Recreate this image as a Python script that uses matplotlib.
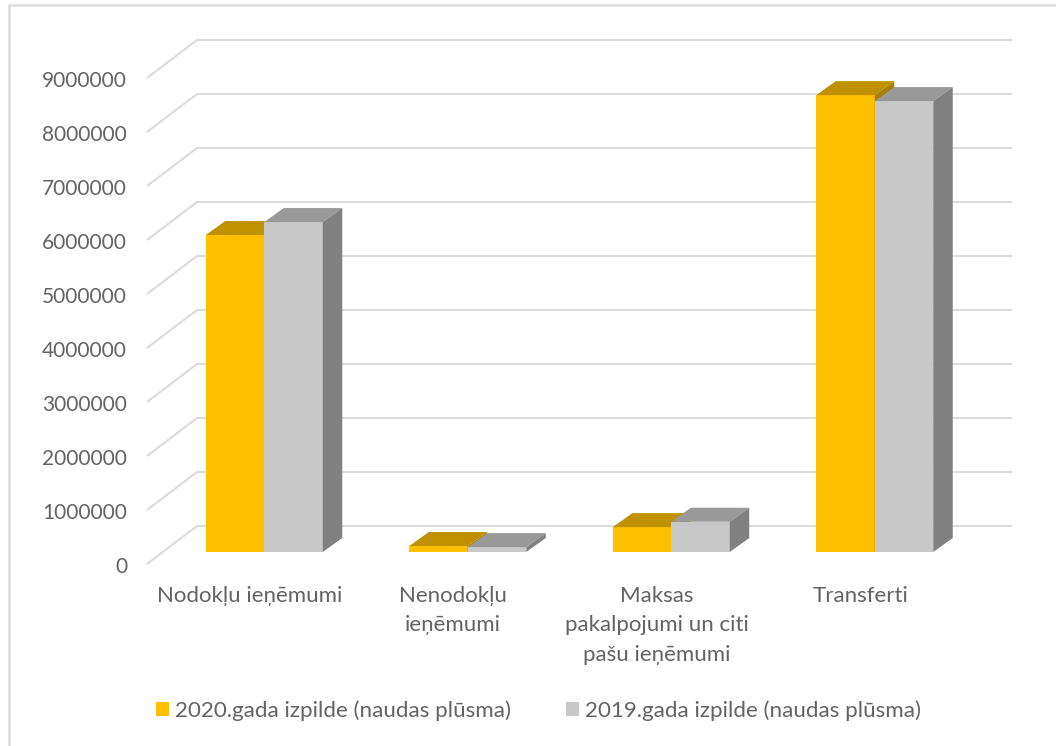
import matplotlib
matplotlib.use("Agg")
import matplotlib.pyplot as plt
from matplotlib.lines import Line2D
from matplotlib.patches import Polygon
from matplotlib.transforms import ScaledTranslation

categories = ["Nodokļu ieņēmumi", "Nenodokļu\nieņēmumi",
              "Maksas\npakalpojumi un citi\npašu ieņēmumi", "Transferti"]
series_2020 = [5870000, 110000, 460000, 8460000]
series_2019 = [6110000, 90000, 560000, 8350000]
label_2020 = "2020.gada izpilde (naudas plūsma)"
label_2019 = "2019.gada izpilde (naudas plūsma)"
y_ticks = [0, 1000000, 2000000, 3000000, 4000000, 5000000, 6000000, 7000000, 8000000, 9000000]

W, H = 1056, 746
FONT = ["Lato", "DejaVu Sans"]
TEXT = "#636363"
GRID = "#DCDCDC"
plt.rcParams["font.family"] = FONT

fig = plt.figure(figsize=(W / 100, H / 100), dpi=100, facecolor="white")
# the chart frame shows only along its left and top edges
fig.add_artist(Line2D([8.5 / W, 8.5 / W, 1], [0, 1 - 4.5 / H, 1 - 4.5 / H], transform=fig.transFigure,
                      color="#DCDCDC", linewidth=1.8, solid_joinstyle="miter"))

# axes span front-left floor corner (147, 564) to back-top-right (1012, 40)
L, R, T, B = 147, 1012, 40, 564
ax = fig.add_axes([L / W, 1 - B / H, (R - L) / W, (B - T) / H])
px_cat = 203.5
px_val = 54 / 1e6
ax.set_xlim(-101.75 / px_cat, -101.75 / px_cat + (R - L) / px_cat)
ax.set_ylim(0, (B - T) / px_val)
for s in ax.spines.values():
    s.set_visible(False)
ax.patch.set_visible(False)

ux = lambda p: p / px_cat      # pixels -> category units
uy = lambda p: p / px_val      # pixels -> value units

x0 = ax.get_xlim()[0]
x1 = ax.get_xlim()[1]
wall_dx, wall_dy = ux(50), uy(38)
for v in y_ticks:
    ax.plot([x0, x0 + wall_dx, x1], [v, v + wall_dy, v + wall_dy], color=GRID, lw=1.5,
            solid_capstyle="butt", solid_joinstyle="miter", zorder=1, clip_on=False)

bar_w = 58.5 / px_cat
base_shift = uy(12)      # bar front base sits 12 px above the front floor edge
x_shift = ux(15.5)       # bars are offset to the back by the floor perspective
depth_x, depth_y = ux(19.5), uy(14)

def draw(values, offset, front, top, side, label, z):
    xs = [i + x_shift + offset for i in range(len(values))]
    ax.bar(xs, values, width=bar_w, bottom=base_shift, align="edge", color=front,
           label=label, zorder=z, linewidth=0)
    for x, v in zip(xs, values):
        y = base_shift + v
        ax.add_patch(Polygon([(x, y), (x + bar_w, y), (x + bar_w + depth_x, y + depth_y),
                              (x + depth_x, y + depth_y)], closed=True, facecolor=top,
                             edgecolor="none", zorder=z))
        ax.add_patch(Polygon([(x + bar_w, base_shift), (x + bar_w, y),
                              (x + bar_w + depth_x, y + depth_y),
                              (x + bar_w + depth_x, base_shift + depth_y)], closed=True,
                             facecolor=side, edgecolor="none", zorder=z))

draw(series_2020, -bar_w, "#FFC000", "#BF9000", "#A88000", label_2020, 3)
draw(series_2019, 0, "#C8C8C8", "#999999", "#808080", label_2019, 4)

ax.set_yticks(y_ticks)
ax.set_yticklabels([str(v) for v in y_ticks])
ax.set_xticks(range(len(categories)))
ax.set_xticklabels(categories, linespacing=1.62)
ax.tick_params(axis="y", length=0, pad=14.4, labelsize=15, labelcolor=TEXT)
ax.tick_params(axis="x", length=0, pad=15.5, labelsize=16, labelcolor=TEXT)
for t in ax.get_yticklabels():
    t.set_transform(t.get_transform() + ScaledTranslation(0, -0.8 / 100, fig.dpi_scale_trans))
for t in ax.get_xticklabels():
    t.set_transform(t.get_transform() + ScaledTranslation(1 / 100, 0, fig.dpi_scale_trans))

fig.legend(*ax.get_legend_handles_labels(), loc="center", ncol=2,
           bbox_to_anchor=(538.5 / W, 1 - 711 / H), frameon=False, fontsize=16.1,
           labelcolor=TEXT, handlelength=0.58, handleheight=0.58, handletextpad=0.27,
           columnspacing=2.5)

fig.savefig("out.png", dpi=100, facecolor="white")
